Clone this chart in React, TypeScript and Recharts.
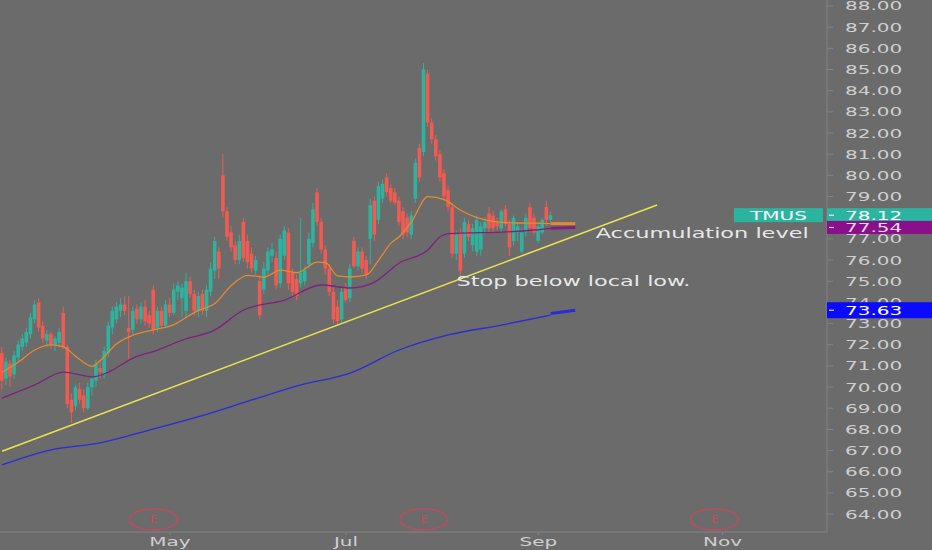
import { ComposedChart, Bar, Line, XAxis, YAxis, ReferenceLine, ReferenceDot } from 'recharts'

// [open, high, low, close] per daily bar
const candles: [number, number, number, number][] = [
  [71.6, 71.9, 69.9, 70.3], [70.4, 71.4, 70.1, 71.2], [71.1, 71.3, 70.0, 70.5], [70.6, 71.7, 70.4, 71.5],
  [71.4, 72.2, 71.2, 72.0], [71.9, 72.5, 71.7, 72.3], [72.1, 72.8, 71.9, 72.6], [72.5, 73.5, 72.3, 73.3],
  [73.2, 74.1, 73.0, 73.9], [74.0, 74.2, 72.6, 72.8], [72.9, 73.1, 72.1, 72.3], [72.2, 72.7, 71.9, 72.5],
  [72.5, 72.6, 71.8, 72.0], [72.0, 72.4, 71.7, 72.3], [72.1, 72.8, 71.9, 72.6], [73.5, 73.8, 71.8, 71.9],
  [71.9, 72.0, 69.0, 69.2], [69.4, 69.7, 68.3, 68.8], [69.1, 70.1, 68.9, 70.0], [69.9, 70.2, 69.2, 69.4],
  [69.6, 69.9, 68.8, 69.0], [69.0, 70.2, 68.9, 70.0], [70.0, 70.5, 69.6, 70.4], [70.3, 71.3, 70.0, 71.1],
  [70.9, 71.3, 70.4, 70.7], [70.6, 71.9, 70.4, 71.7], [71.6, 73.1, 71.4, 72.9], [72.8, 73.8, 72.5, 73.6],
  [73.2, 74.0, 73.0, 73.8], [73.6, 74.2, 73.3, 73.9], [73.9, 74.3, 73.4, 73.6], [72.8, 74.3, 71.3, 72.6],
  [72.7, 73.8, 72.5, 73.6], [73.7, 73.9, 73.0, 73.2], [73.2, 74.0, 73.0, 73.8], [73.8, 74.1, 72.9, 73.1],
  [73.4, 73.6, 72.8, 73.0], [74.6, 74.8, 72.5, 72.7], [72.8, 73.8, 72.6, 73.6], [73.6, 73.8, 72.8, 72.9],
  [72.9, 74.1, 72.8, 73.9], [73.9, 74.2, 73.3, 73.5], [73.5, 74.9, 73.4, 74.6], [74.5, 75.0, 74.1, 74.8],
  [74.2, 74.9, 73.3, 74.7], [73.6, 75.4, 73.3, 75.0], [75.0, 75.2, 74.2, 74.4], [74.4, 74.6, 73.4, 73.6],
  [73.6, 74.5, 73.3, 74.3], [74.4, 74.6, 73.4, 73.6], [73.6, 74.8, 73.3, 74.6], [74.5, 75.9, 74.3, 75.6],
  [75.5, 77.1, 75.1, 76.9], [76.4, 76.6, 75.1, 75.6], [80.0, 81.0, 78.0, 78.3], [78.3, 78.5, 76.9, 77.1],
  [77.3, 77.6, 76.4, 76.6], [76.7, 76.9, 75.8, 76.0], [76.0, 77.2, 75.8, 76.9], [77.8, 78.0, 75.9, 76.1],
  [76.9, 77.2, 75.6, 75.9], [76.3, 76.6, 75.4, 75.6], [75.5, 76.2, 75.3, 76.0], [75.0, 75.3, 73.2, 73.4],
  [74.6, 75.9, 74.4, 75.6], [75.5, 76.6, 75.3, 76.4], [76.2, 76.8, 75.9, 76.5], [76.1, 76.4, 74.6, 74.8],
  [74.9, 77.2, 74.7, 77.0], [76.2, 77.6, 76.0, 77.4], [77.3, 77.5, 74.6, 74.9], [75.4, 75.6, 74.3, 74.5],
  [75.1, 75.3, 74.1, 74.3], [74.9, 78.0, 74.7, 75.4], [75.0, 75.7, 74.8, 75.5], [75.8, 77.3, 75.6, 77.0],
  [76.8, 78.7, 76.6, 78.4], [79.2, 79.4, 77.6, 77.8], [77.8, 78.0, 76.3, 76.5], [76.5, 76.7, 75.3, 75.6],
  [75.6, 75.8, 74.3, 74.5], [74.5, 74.7, 73.0, 73.2], [73.8, 74.1, 72.9, 73.1], [73.2, 74.7, 73.0, 74.5],
  [74.7, 74.9, 74.0, 74.1], [74.2, 75.8, 74.0, 75.6], [76.9, 77.1, 75.6, 75.7], [75.7, 76.6, 75.5, 76.4],
  [76.4, 76.6, 75.4, 75.6], [76.0, 76.2, 75.1, 75.3], [77.0, 78.9, 75.8, 78.6], [78.8, 79.0, 76.9, 77.2],
  [77.9, 79.7, 77.7, 79.5], [78.9, 79.8, 78.7, 79.6], [79.9, 80.1, 79.0, 79.2], [79.4, 79.6, 78.7, 78.8],
  [79.2, 79.4, 78.6, 78.7], [78.8, 79.0, 77.6, 77.8], [78.3, 78.5, 77.0, 77.2], [78.0, 78.2, 77.1, 77.3],
  [77.2, 78.3, 77.0, 78.1], [78.9, 80.8, 78.7, 80.6], [81.3, 81.5, 79.7, 79.9], [81.1, 85.3, 80.9, 85.0],
  [84.8, 85.0, 82.3, 82.5], [82.5, 82.7, 81.5, 81.7], [81.7, 81.9, 80.7, 80.9], [81.0, 81.2, 79.7, 79.9],
  [80.1, 80.3, 78.8, 79.0], [79.3, 79.5, 78.3, 78.5], [78.5, 78.7, 76.1, 76.3], [76.3, 77.4, 76.0, 77.2],
  [77.3, 77.5, 75.2, 75.5], [76.3, 78.0, 76.1, 77.8], [77.7, 77.9, 76.9, 77.1], [76.7, 77.7, 76.4, 77.5],
  [76.4, 78.1, 76.2, 77.9], [76.5, 77.8, 76.2, 77.6], [77.5, 78.0, 77.2, 77.8], [78.2, 78.5, 77.3, 77.5],
  [78.1, 78.3, 77.3, 77.5], [77.8, 78.0, 77.4, 77.6], [77.5, 78.4, 77.3, 78.3], [78.4, 78.6, 77.6, 77.7],
  [77.7, 77.9, 76.2, 76.6], [76.9, 78.1, 76.7, 78.0], [77.3, 77.8, 76.9, 77.6], [76.4, 77.5, 76.3, 77.3],
  [77.3, 78.2, 77.1, 78.0], [78.5, 78.7, 77.3, 77.5], [78.0, 78.2, 77.2, 77.3], [76.9, 77.8, 76.8, 77.6],
  [77.3, 78.0, 77.2, 77.9], [78.5, 78.8, 77.6, 77.9], [77.9, 78.3, 77.8, 78.12],
]

// moving averages, sampled at a few bars and joined by the line
const orangeBars = [0, 4, 8, 12, 15, 18, 22, 24, 28, 32, 37, 42, 45, 48, 52, 56, 60, 64, 68, 72, 77, 79, 82, 85, 89, 92, 95, 97, 100, 104, 108, 112, 116, 121, 126, 130, 134]
const orangeVals = [70.7, 71.18, 71.75, 71.99, 71.9, 71.45, 70.98, 71.25, 72.05, 72.45, 72.7, 72.95, 73.3, 73.62, 73.95, 74.8, 75.28, 75.2, 75.52, 75.4, 75.9, 75.88, 75.25, 75.2, 75.3, 76.0, 76.8, 77.1, 77.8, 79.0, 78.85, 78.35, 78.0, 77.8, 77.75, 77.74, 77.72]

const purpleBars = [0, 8, 15, 22, 26, 32, 38, 44, 52, 59, 69, 78, 85, 91, 97, 104, 107, 109, 114, 122, 130, 134]
const purpleVals = [69.48, 70.1, 70.71, 70.48, 70.71, 71.37, 71.75, 72.22, 72.7, 73.64, 74.11, 74.82, 74.68, 74.96, 75.86, 76.47, 77.1, 77.25, 77.28, 77.32, 77.42, 77.5]

const blueBars = [0, 12, 24, 36, 48, 61, 73, 85, 97, 109, 122, 134]
const blueVals = [66.32, 67.03, 67.36, 67.97, 68.6, 69.39, 70.1, 70.66, 71.75, 72.46, 72.93, 73.4]

const tailBars = [134, 140]
const orangeTail = [77.72, 77.72]
const purpleTail = [77.5, 77.54]
const blueTail = [73.48, 73.63]

const trendBars = [0, 160]
const trendVals = [66.97, 78.6]

const monthBars = [41, 84, 131, 176]
const monthLabels = ['May', 'Jul', 'Sep', 'Nov']
const earningsBars = [37, 103, 174]
const earningsLevel = 63.75
const priceTicks = [64, 65, 66, 67, 68, 69, 70, 71, 72, 73, 74, 75, 76, 77, 78, 79, 80, 81, 82, 83, 84, 85, 86, 87, 88]

const notes = [
  { text: 'Accumulation level', bar: 145, price: 77.28 },
  { text: 'Stop below local low.', bar: 111, price: 74.99 },
]

const TOTAL_BARS = 202
const symbol = 'TMUS'

const BG = '#6b6b6b'
const TEAL = '#2db39e'
const RED = '#f25a52'
const ORANGE = '#e68a2e'
const PURPLE = '#80207f'
const BLUE = '#2b2bd8'
const YELLOW = '#ece44c'
const NOTE_TEXT = '#e8e8e8'
const AXIS_TEXT = '#cfcfcf'
const AXIS_LINE = '#838383'
const E_COLOR = '#d0445e'
const FONT = '"DejaVu Sans", sans-serif'
const STRETCH = 1.6
const AXIS_W = 104
const TAG_W = 105
const Y_DOMAIN: [number, number] = [63.154, 88.283]

const data = Array.from({ length: TOTAL_BARS }, (_, i) => {
  const row: any = { i }
  const k = candles[i]
  if (k) {
    row.o = k[0]
    row.h = k[1]
    row.l = k[2]
    row.c = k[3]
    row.range = [k[2], k[1]]
  }
  return row
})
orangeBars.forEach((b, j) => (data[b].orange = orangeVals[j]))
purpleBars.forEach((b, j) => (data[b].purple = purpleVals[j]))
blueBars.forEach((b, j) => (data[b].blue = blueVals[j]))
tailBars.forEach((b, j) => {
  data[b].orangeTail = orangeTail[j]
  data[b].purpleTail = purpleTail[j]
  data[b].blueTail = blueTail[j]
})

const lastClose = candles[candles.length - 1][3]

// price tags on the right scale, drawn in this order (the orange one is mostly covered)
const tags = [
  { value: orangeTail[orangeTail.length - 1], bg: ORANGE, fg: '#ffffff', h: 14, hidden: true },
  { value: lastClose, bg: '#2bb5a0', fg: '#ffffff', h: 14, name: symbol },
  { value: purpleTail[purpleTail.length - 1], bg: '#8a0f8a', fg: '#f4d8f4', h: 13 },
  { value: blueTail[blueTail.length - 1], bg: '#0a0aff', fg: '#ffffff', h: 16 },
]

function Candle(props: any) {
  const { x, y, width, height, payload } = props
  if (!payload || payload.o == null) return null
  const { o, h, l, c } = payload
  const top = Math.min(y, y + height)
  const bot = Math.max(y, y + height)
  const k = (bot - top) / (h - l || 1)
  const yo = top + (h - o) * k
  const yc = top + (h - c) * k
  const color = c >= o ? TEAL : RED
  const cx = x + width / 2
  return (
    <g>
      <line x1={cx} x2={cx} y1={top} y2={bot} stroke={color} strokeWidth={1} />
      <rect x={x} y={Math.min(yo, yc)} width={width} height={Math.max(1, Math.abs(yc - yo))} fill={color} />
    </g>
  )
}

function Stretched({ x, y, children, fill, size = 12.5, anchor = 'start', stretch = STRETCH }: any) {
  return (
    <text
      transform={`translate(${x},${y}) scale(${stretch},1)`}
      fill={fill}
      fontSize={size}
      fontFamily={FONT}
      textAnchor={anchor}
    >
      {children}
    </text>
  )
}

function PriceTick({ x, y, payload }: any) {
  const v = Number(payload.value)
  // labels that sit right under the last-price tags are covered in the original
  if (tags.some((t) => !t.hidden && Math.abs(t.value - v) < 0.3)) return null
  return (
    <Stretched x={x} y={y + 4.5} fill={AXIS_TEXT}>
      {v.toFixed(2)}
    </Stretched>
  )
}

function MonthTick({ x, y, payload }: any) {
  return (
    <Stretched x={x} y={y + 9} fill={AXIS_TEXT} anchor="middle">
      {monthLabels[monthBars.indexOf(payload.value)]}
    </Stretched>
  )
}

// tick of the second (tag) axis, which sits at the chart's right edge
function TagTick({ x, y, payload }: any) {
  const tag = tags.find((t) => Math.abs(t.value - Number(payload.value)) < 0.001)
  if (!tag) return null
  const ax = x - AXIS_W
  const { h, bg, fg, name, hidden } = tag
  return (
    <g>
      {name && (
        <g>
          <rect x={ax - 93} y={y - h / 2} width={89} height={h} fill={bg} />
          <Stretched x={ax - 48.5} y={y + 4.5} fill={fg} anchor="middle">{name}</Stretched>
        </g>
      )}
      <rect x={ax} y={y - h / 2} width={TAG_W} height={h} fill={bg} />
      {!hidden && (
        <g>
          <line x1={ax + 2} x2={ax + 7} y1={y} y2={y} stroke={fg} strokeWidth={1} />
          <Stretched x={ax + 18} y={y + 4.5} fill={fg}>{tag.value.toFixed(2)}</Stretched>
        </g>
      )}
    </g>
  )
}

function EarningsMark({ cx, cy }: any) {
  return (
    <g>
      <ellipse cx={cx} cy={cy} rx={24} ry={10.5} fill="none" stroke={E_COLOR} strokeWidth={1.2} />
      <text x={cx} y={cy + 4} fill={E_COLOR} fontSize={11} fontFamily={FONT} textAnchor="middle">E</text>
    </g>
  )
}

function NoteText(text: string) {
  return ({ cx, cy }: any) => (
    <Stretched x={cx} y={cy + 5} fill={NOTE_TEXT} size={13.5} stretch={1.66}>{text}</Stretched>
  )
}

export default function App() {
  return (
    <div style={{ position: 'absolute', left: 0, top: 0, width: 932, height: 550, background: BG }}>
      <ComposedChart width={932} height={550} data={data} margin={{ top: 0, right: 0, left: 0, bottom: 0 }}>
        <XAxis
          dataKey="i"
          type="category"
          ticks={monthBars}
          interval={0}
          height={18}
          axisLine={{ stroke: AXIS_LINE }}
          tickLine={{ stroke: AXIS_LINE }}
          tickSize={3}
          tick={<MonthTick />}
        />
        <YAxis
          yAxisId="price"
          orientation="right"
          width={AXIS_W}
          domain={Y_DOMAIN}
          allowDataOverflow
          ticks={priceTicks}
          interval={0}
          axisLine={{ stroke: AXIS_LINE }}
          tickLine={{ stroke: AXIS_LINE }}
          tickSize={6}
          tickMargin={12}
          tick={<PriceTick />}
        />
        <YAxis
          yAxisId="tags"
          orientation="right"
          width={1}
          domain={Y_DOMAIN}
          allowDataOverflow
          ticks={tags.map((t) => t.value)}
          interval={0}
          axisLine={false}
          tickLine={false}
          tickSize={0}
          tickMargin={0}
          tick={<TagTick />}
        />
        <ReferenceLine
          yAxisId="price"
          segment={[
            { x: trendBars[0], y: trendVals[0] },
            { x: trendBars[1], y: trendVals[1] },
          ]}
          stroke={YELLOW}
          strokeWidth={1.5}
        />
        <Line yAxisId="price" dataKey="blue" type="monotone" stroke={BLUE} strokeWidth={1.3} dot={false} activeDot={false} connectNulls isAnimationActive={false} />
        <Line yAxisId="price" dataKey="purple" type="monotone" stroke={PURPLE} strokeWidth={1.3} dot={false} activeDot={false} connectNulls isAnimationActive={false} />
        <Line yAxisId="price" dataKey="orange" type="monotone" stroke={ORANGE} strokeWidth={1.3} dot={false} activeDot={false} connectNulls isAnimationActive={false} />
        <Line yAxisId="price" dataKey="blueTail" stroke={BLUE} strokeWidth={3} dot={false} activeDot={false} connectNulls isAnimationActive={false} />
        <Line yAxisId="price" dataKey="purpleTail" stroke={PURPLE} strokeWidth={3} dot={false} activeDot={false} connectNulls isAnimationActive={false} />
        <Line yAxisId="price" dataKey="orangeTail" stroke={ORANGE} strokeWidth={3} dot={false} activeDot={false} connectNulls isAnimationActive={false} />
        <Line yAxisId="tags" dataKey="tagAnchor" stroke="none" dot={false} activeDot={false} isAnimationActive={false} legendType="none" />
        <Bar yAxisId="price" dataKey="range" barSize={3.6} shape={<Candle />} isAnimationActive={false} />
        {earningsBars.map((b) => (
          <ReferenceDot key={b} yAxisId="price" x={b} y={earningsLevel} r={0} shape={<EarningsMark />} />
        ))}
        {notes.map((n) => (
          <ReferenceDot key={n.text} yAxisId="price" x={n.bar} y={n.price} r={0} shape={NoteText(n.text)} />
        ))}
      </ComposedChart>
    </div>
  )
}
